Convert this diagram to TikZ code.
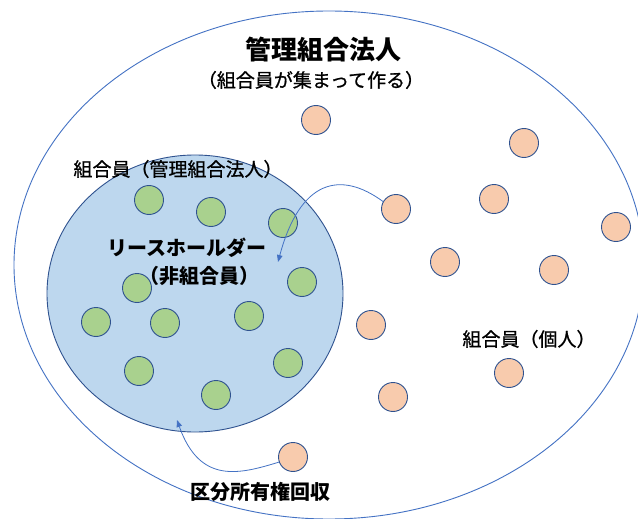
\documentclass[tikz,border=0pt]{standalone}
\usepackage{fontspec}
\newfontfamily\jp{Noto Sans CJK JP}
\newfontfamily\jpm[FakeBold=0.9]{Noto Sans CJK JP}
\usetikzlibrary{shapes.geometric,arrows.meta}
\definecolor{lineblue}{HTML}{4472C4}
\definecolor{edgeblue}{HTML}{2F528F}
\definecolor{orangefill}{HTML}{F8CBAD}
\definecolor{greenfill}{HTML}{A9D18E}
\definecolor{bluefill}{HTML}{BDD7EE}
\tikzset{
  member/.style={circle, draw=edgeblue, line width=0.9pt, fill=orangefill, inner sep=0pt, minimum size=29pt},
  lessee/.style={circle, draw=edgeblue, line width=0.9pt, fill=greenfill, inner sep=0pt, minimum size=29pt},
  lbl/.style={inner sep=0pt, font=\jpm\fontsize{19}{22}\selectfont, text=black},
  lblbold/.style={inner sep=0pt, font=\jp\bfseries\fontsize{20}{23}\selectfont, text=black},
  flow/.style={draw=lineblue, line width=0.8pt, -{Triangle[length=7pt,width=5.5pt]}}
}
\begin{document}
\begin{tikzpicture}[x=1pt,y=-1pt]
\useasboundingbox (0,0) rectangle (638,519);
\clip (0,0) rectangle (638,519);
\fill[white] (0,0) rectangle (638,519);
% outer association
\node[ellipse, draw=lineblue, line width=0.9pt, minimum width=630pt, minimum height=508pt, inner sep=0pt] (assoc) at (329,265) {};
% corporate member circle
\node[ellipse, draw=edgeblue, line width=0.9pt, fill=bluefill, minimum width=296pt, minimum height=277pt, inner sep=0pt] (corp) at (195,293.5) {};
% green lessees
\node[lessee] (g1) at (149,200) {};
\node[lessee] (g2) at (211,212) {};
\node[lessee] (g3) at (283,223) {};
\node[lessee] (g4) at (302,282) {};
\node[lessee] (g5) at (137,288) {};
\node[lessee] (g6) at (96,322) {};
\node[lessee] (g7) at (165,323) {};
\node[lessee] (g8) at (249,316) {};
\node[lessee] (g9) at (139,371) {};
\node[lessee] (g10) at (288,363) {};
\node[lessee] (g11) at (216,395) {};
% orange individual members
\node[member] (o1) at (316,120) {};
\node[member] (o2) at (524,143) {};
\node[member] (o3) at (396,209) {};
\node[member] (o4) at (494,199) {};
\node[member] (o5) at (616,227) {};
\node[member] (o6) at (445,262) {};
\node[member] (o7) at (554,270) {};
\node[member] (o8) at (371,325) {};
\node[member] (o9) at (509,373) {};
\node[member] (o10) at (393,397) {};
\node[member] (o11) at (293,457) {};
% arrow targets
\coordinate (t1) at (278,262);
\coordinate (t2) at (177,420);
\draw[flow] (o3.150) .. controls (340,170) and (300,180) .. (t1);
\draw[flow] (o11.200) .. controls (240,474) and (200,485) .. (t2);
% texts
\node[inner sep=0pt, font=\jp\bfseries\fontsize{26}{30}\selectfont] (title) at (323,50) {管理組合法人};
\node[lbl] (sub) at (311,80) {（組合員が集まって作る）};
\node[lbl] (corplbl) at (178,169) {組合員（管理組合法人）};
\node[lblbold] (lease) at (187,248) {リースホールダー};
\node[lblbold] (nonm) at (199,276) {（非組合員）};
\node[lbl] (indiv) at (529,339) {組合員（個人）};
\node[lblbold] (recl) at (260,492) {区分所有権回収};
\end{tikzpicture}
\end{document}
